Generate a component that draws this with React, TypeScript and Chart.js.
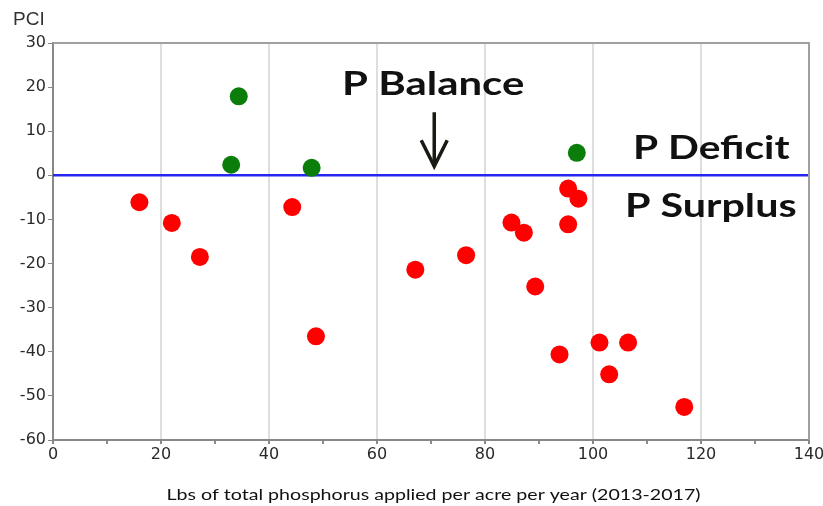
import React, { useEffect, useRef } from "react";
import { Chart, registerables } from "chart.js";

Chart.register(...registerables);

// Surplus points (red): applied P (lbs/acre/yr) and PCI
const surplusX = [16.0, 22.0, 27.2, 44.3, 48.7, 67.1, 76.5, 84.9, 87.2, 89.3, 95.4, 93.8, 101.2, 106.5, 103.0, 116.9, 95.4, 97.3];
const surplusY = [-6.1, -10.8, -18.5, -7.2, -36.5, -21.4, -18.1, -10.7, -13.0, -25.2, -11.1, -40.6, -37.9, -37.9, -45.1, -52.5, -3.0, -5.3];
// Deficit points (green)
const deficitX = [34.4, 33.0, 47.9, 97.0];
const deficitY = [17.9, 2.4, 1.7, 5.1];
// Balance line
const balanceX = [0, 140];
const balanceY = [0, 0];

const xTitle = "Lbs of total phosphorus applied per acre per year (2013-2017)";
const yTitle = "PCI";
const labelBalance = "P Balance";
const labelDeficit = "P Deficit";
const labelSurplus = "P Surplus";

function wideText(ctx: any, text: string, cx: number, baseY: number, sx: number) {
  ctx.save();
  ctx.translate(cx, baseY);
  ctx.scale(sx, 1);
  ctx.textAlign = "center";
  ctx.textBaseline = "alphabetic";
  ctx.fillText(text, 0, 0);
  ctx.restore();
}

const annotPlugin = {
  id: "annot",
  afterDraw(chart: any) {
    const ctx = chart.ctx;
    const xs = chart.scales.x;
    const ys = chart.scales.y;
    const a = chart.chartArea;
    const px = (v: number) => xs.getPixelForValue(v);
    const py = (v: number) => ys.getPixelForValue(v);
    ctx.save();
    // top & right border
    ctx.strokeStyle = "#a0a0a0";
    ctx.lineWidth = 2;
    ctx.beginPath();
    ctx.moveTo(a.left, a.top);
    ctx.lineTo(a.right, a.top);
    ctx.lineTo(a.right, a.bottom);
    ctx.stroke();

    // PCI label
    ctx.fillStyle = "#333";
    ctx.font = "19px 'Liberation Sans', Arial, sans-serif";
    ctx.textAlign = "left";
    ctx.textBaseline = "alphabetic";
    ctx.fillText(yTitle, 13, 25);

    // x title
    ctx.fillStyle = "#111";
    ctx.font = "16px Lato, 'Open Sans', sans-serif";
    wideText(ctx, xTitle, 433.5, 499.5, 1.225);

    // annotations
    ctx.fillStyle = "#111";
    ctx.font = "bold 32px Lato, 'Open Sans', sans-serif";
    wideText(ctx, labelBalance, px(70.4), py(18.1), 1.31);
    wideText(ctx, labelDeficit, px(121.9), py(3.8), 1.27);
    wideText(ctx, labelSurplus, px(121.8), py(-9.45), 1.29);

    // arrow
    const ax = px(70.6);
    const top = py(14.3);
    const tip = py(1.6);
    ctx.strokeStyle = "#1a1a14";
    ctx.lineWidth = 3.5;
    ctx.lineCap = "butt";
    ctx.beginPath();
    ctx.moveTo(ax, top);
    ctx.lineTo(ax, tip - 2);
    ctx.stroke();
    ctx.beginPath();
    ctx.moveTo(ax - 13, tip - 28);
    ctx.lineTo(ax, tip - 2);
    ctx.lineTo(ax + 13, tip - 28);
    ctx.stroke();
    ctx.restore();
  },
};

export default function App() {
  const ref = useRef<HTMLCanvasElement | null>(null);
  useEffect(() => {
    document.body.style.margin = "0";
    const canvas = ref.current;
    if (!canvas) return;
    const tickFont = { family: "'DejaVu Sans', sans-serif", size: 16 };
    const chart = new Chart(canvas, {
      type: "scatter",
      data: {
        datasets: [
          {
            type: "line",
            data: balanceX.map((x, i) => ({ x, y: balanceY[i] })),
            borderColor: "#2626f0",
            borderWidth: 2.5,
            pointRadius: 0,
            order: 3,
          } as any,
          {
            data: surplusX.map((x, i) => ({ x, y: surplusY[i] })),
            backgroundColor: "#ff0000",
            borderWidth: 0,
            pointRadius: 9,
            order: 1,
          },
          {
            data: deficitX.map((x, i) => ({ x, y: deficitY[i] })),
            backgroundColor: "#0a7d0a",
            borderWidth: 0,
            pointRadius: 9,
            order: 1,
          },
        ],
      },
      options: {
        responsive: false,
        animation: false,
        events: [],
        layout: { padding: { top: 43, right: 14, left: 0, bottom: 0 } },
        plugins: { legend: { display: false }, tooltip: { enabled: false } },
        scales: {
          x: {
            type: "linear",
            min: 0,
            max: 140,
            afterFit: (s: any) => {
              s.height = 66;
              s.paddingLeft = 0;
              s.paddingRight = 0;
            },
            ticks: {
              stepSize: 10,
              autoSkip: false,
              maxRotation: 0,
              padding: 1,
              color: "#2a2a2a",
              font: tickFont,
              callback: (v: any) => (Number(v) % 20 === 0 ? String(v) : ""),
            },
            grid: {
              color: (c: any) =>
                c.tick && c.tick.value % 20 === 0 && c.tick.value !== 0 ? "#dedede" : "rgba(0,0,0,0)",
              lineWidth: 2,
              tickColor: "#888",
              tickLength: 4,
            },
            border: { color: "#888", width: 2 },
          },
          y: {
            type: "linear",
            min: -60,
            max: 30,
            afterFit: (s: any) => {
              s.width = 53;
            },
            ticks: {
              stepSize: 10,
              padding: 2,
              color: "#2a2a2a",
              font: tickFont,
            },
            grid: {
              drawOnChartArea: false,
              tickColor: "#888",
              tickLength: 5,
            },
            border: { color: "#888", width: 2 },
          },
        },
      },
      plugins: [annotPlugin],
    });
    return () => chart.destroy();
  }, []);
  return <canvas ref={ref} width={823} height={506} style={{ display: "block" }} />;
}
